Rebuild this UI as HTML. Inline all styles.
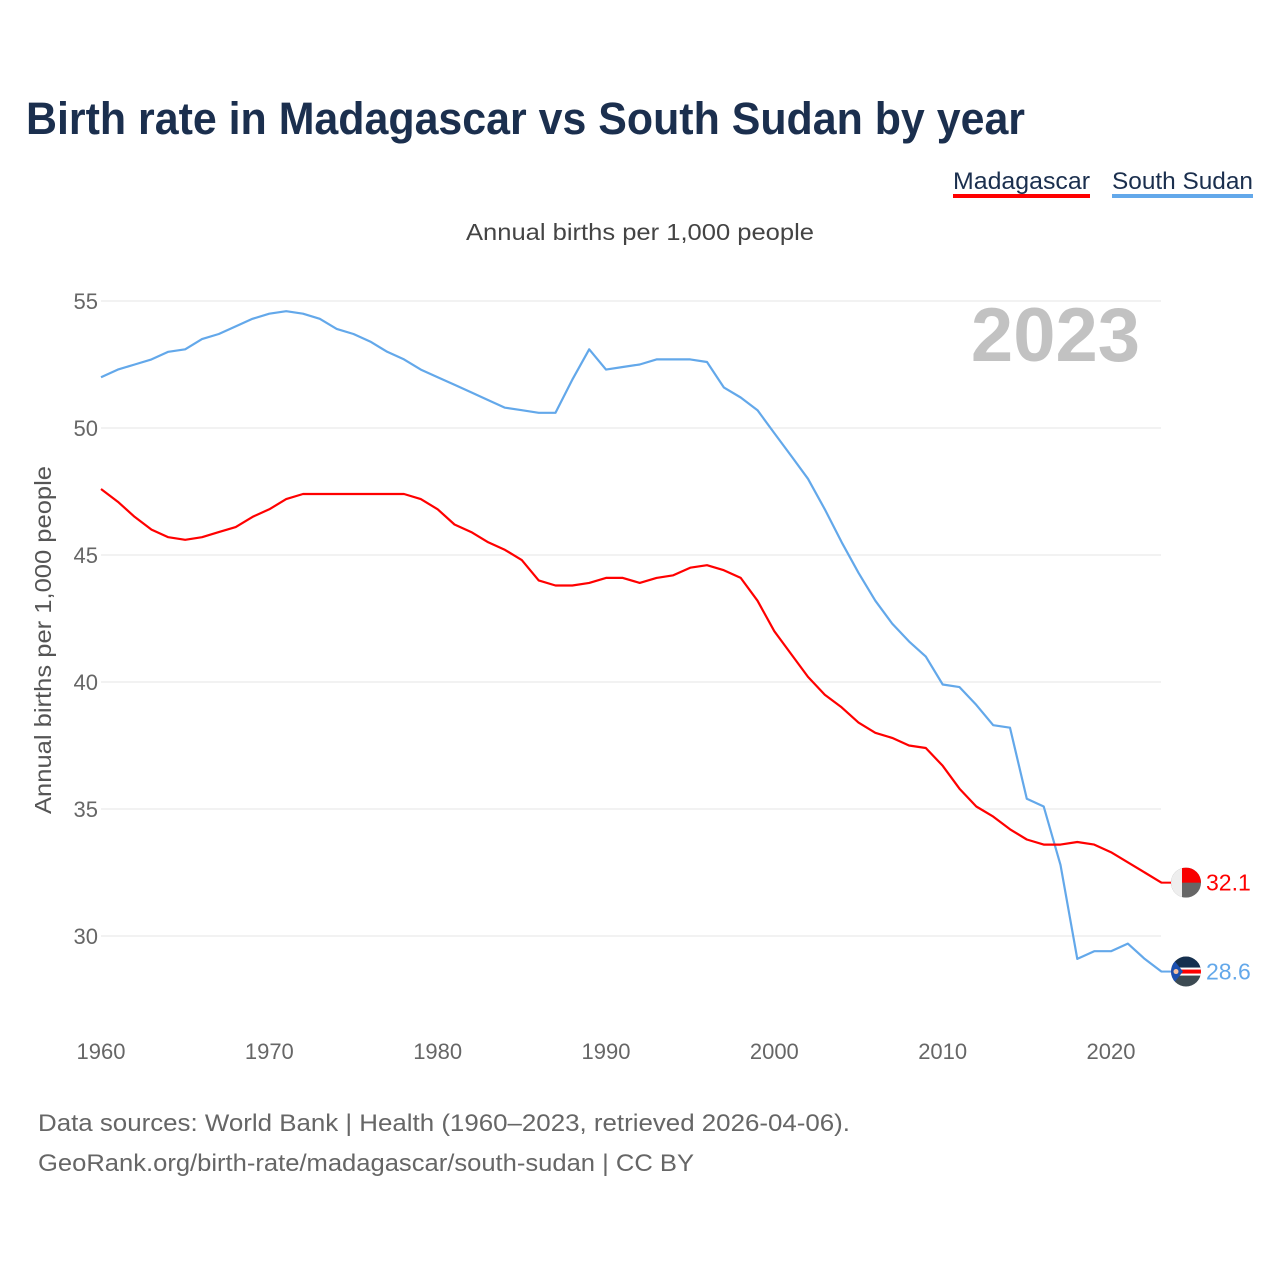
<!DOCTYPE html>
<html><head><meta charset="utf-8"><style>
body{margin:0;background:#fff;font-family:"Liberation Sans",sans-serif;}
svg text{font-family:"Liberation Sans",sans-serif;}
</style></head><body>
<svg id="chart" width="1280" height="1280" xmlns="http://www.w3.org/2000/svg">
<defs>
<clipPath id="c1"><circle cx="1186" cy="0" r="14"/></clipPath>
</defs>
<rect width="1280" height="1280" fill="#fff"/>
<text x="26" y="134" font-size="45" font-weight="bold" fill="#1b2f4e" textLength="999" lengthAdjust="spacingAndGlyphs">Birth rate in Madagascar vs South Sudan by year</text>
<g><text x="953" y="189" font-size="24" fill="#1b2f4e" textLength="137" lengthAdjust="spacingAndGlyphs">Madagascar</text><rect x="953" y="194" width="137" height="4" fill="#ff0000"/></g>
<g><text x="1112" y="189" font-size="24" fill="#1b2f4e" textLength="141" lengthAdjust="spacingAndGlyphs">South Sudan</text><rect x="1112" y="194" width="141" height="4" fill="#63a8ea"/></g>
<text x="466" y="240" font-size="23" fill="#444" textLength="348" lengthAdjust="spacingAndGlyphs">Annual births per 1,000 people</text>
<text transform="translate(51,640) rotate(-90)" font-size="23" fill="#555" text-anchor="middle" textLength="348" lengthAdjust="spacingAndGlyphs">Annual births per 1,000 people</text>
<text x="1140" y="361" font-size="76" font-weight="bold" fill="#c2c2c2" text-anchor="end">2023</text>
<g id="grid"></g><g id="lines"></g><g id="ends"></g>
<text x="38" y="1131" font-size="24" fill="#666" textLength="812" lengthAdjust="spacingAndGlyphs">Data sources: World Bank | Health (1960–2023, retrieved 2026-04-06).</text>
<text x="38" y="1171" font-size="24" fill="#666" textLength="656" lengthAdjust="spacingAndGlyphs">GeoRank.org/birth-rate/madagascar/south-sudan | CC BY</text>
</svg>
<script>
const years=[];for(let y=1960;y<=2023;y++)years.push(y);
const madagascar=[47.6,47.1,46.5,46.0,45.7,45.6,45.7,45.9,46.1,46.5,46.8,47.2,47.4,47.4,47.4,47.4,47.4,47.4,47.4,47.2,46.8,46.2,45.9,45.5,45.2,44.8,44.0,43.8,43.8,43.9,44.1,44.1,43.9,44.1,44.2,44.5,44.6,44.4,44.1,43.2,42.0,41.1,40.2,39.5,39.0,38.4,38.0,37.8,37.5,37.4,36.7,35.8,35.1,34.7,34.2,33.8,33.6,33.6,33.7,33.6,33.3,32.9,32.5,32.1];
const southSudan=[52.0,52.3,52.5,52.7,53.0,53.1,53.5,53.7,54.0,54.3,54.5,54.6,54.5,54.3,53.9,53.7,53.4,53.0,52.7,52.3,52.0,51.7,51.4,51.1,50.8,50.7,50.6,50.6,51.9,53.1,52.3,52.4,52.5,52.7,52.7,52.7,52.6,51.6,51.2,50.7,49.8,48.9,48.0,46.8,45.5,44.3,43.2,42.3,41.6,41.0,39.9,39.8,39.1,38.3,38.2,35.4,35.1,32.8,29.1,29.4,29.4,29.7,29.1,28.6];
const yTicks=[30,35,40,45,50,55];
const xTicks=[1960,1970,1980,1990,2000,2010,2020];
const NS="http://www.w3.org/2000/svg";
const x=v=>101+(v-1960)*(1111-101)/60;
const y=v=>936-(v-30)*(936-301)/25;
function mk(tag,attrs,parent){const e=document.createElementNS(NS,tag);for(const k in attrs)e.setAttribute(k,attrs[k]);parent.appendChild(e);return e;}
const grid=document.getElementById('grid');
yTicks.forEach(t=>{
 const l=mk('line',{x1:101,x2:1161,y1:y(t),y2:y(t),stroke:'#e6e6e6','stroke-width':1},grid);
 
 
 const tx=mk('text',{x:98,y:y(t)+8,'font-size':22,fill:'#666','text-anchor':'end'},grid);tx.textContent=t;
 
 
});
xTicks.forEach(t=>{
 const tx=mk('text',{x:x(t),y:1059,'font-size':22,fill:'#666','text-anchor':'middle'},grid);tx.textContent=t;
 
 
});
const lines=document.getElementById('lines');
function series(vals,color,name){
 const d=vals.map((v,i)=>(i?'L':'M')+x(years[i]).toFixed(1)+','+y(v).toFixed(1)).join(' ');
 const p=mk('path',{d:d,fill:'none',stroke:color,'stroke-width':2.2,'stroke-linejoin':'round'},lines);
 
 
}
series(southSudan,'#63a8ea','south-sudan');
series(madagascar,'#ff0000','madagascar');
const ends=document.getElementById('ends');
const defs=document.querySelector('defs');
function endLabel(vals,color,name){
 const v=vals[vals.length-1],cy=y(v),cx=1186;
 mk('line',{x1:1161,x2:cx-14,y1:cy,y2:cy,stroke:color,'stroke-width':2},ends);
 const cp=mk('clipPath',{id:'clip-'+name},defs);
 mk('circle',{cx:cx,cy:cy,r:15},cp);
 const g=mk('g',{'clip-path':'url(#clip-'+name+')'},ends);
 
 
 if(name==='madagascar'){
  mk('rect',{x:cx-15,y:cy-15,width:30,height:30,fill:'#666'},g);
  mk('rect',{x:cx-15,y:cy-15,width:11,height:30,fill:'#eeeeee'},g);
  mk('rect',{x:cx-4,y:cy-15,width:19,height:15,fill:'#f80000'},g);
 }else{
  mk('rect',{x:cx-15,y:cy-15,width:30,height:30,fill:'#3c4a52'},g);
  mk('rect',{x:cx-15,y:cy-15,width:30,height:11,fill:'#15304f'},g);
  mk('rect',{x:cx-15,y:cy-4,width:30,height:8,fill:'#fff'},g);
  mk('rect',{x:cx-15,y:cy-2,width:30,height:4,fill:'#f00'},g);
  mk('path',{d:`M${cx-15},${cy-15} L${cx-3},${cy} L${cx-15},${cy+15}Z`,fill:'#1a4fb0'},g);
  mk('circle',{cx:cx-10,cy:cy,r:2.5,fill:'#f4c0a0'},g);
 }
 const t=mk('text',{x:1206,y:cy+8,'font-size':23,fill:color},ends);t.textContent=v.toFixed(1);
 
 
}
endLabel(madagascar,'#ff0000','madagascar');
endLabel(southSudan,'#63a8ea','south-sudan');
</script>
</body></html>
